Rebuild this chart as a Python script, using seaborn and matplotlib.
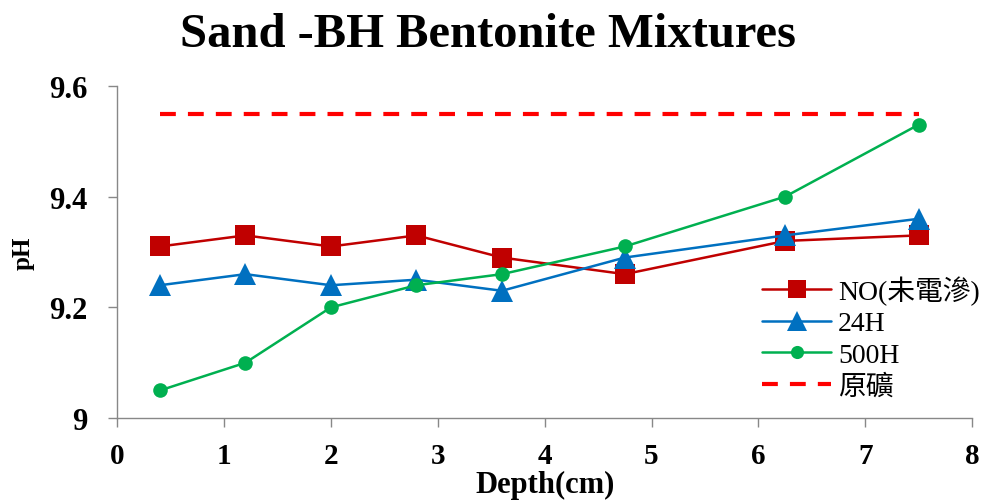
import matplotlib
matplotlib.use("Agg")
import matplotlib.pyplot as plt
import seaborn as sns
import pandas as pd

# Sampling depths (cm) and measured pH for each treatment
depth = [0.4, 1.2, 2.0, 2.8, 3.6, 4.75, 6.25, 7.5]
ph_no = [9.31, 9.33, 9.31, 9.33, 9.29, 9.26, 9.32, 9.33]
ph_24h = [9.24, 9.26, 9.24, 9.25, 9.23, 9.29, 9.33, 9.36]
ph_500h = [9.05, 9.10, 9.20, 9.24, 9.26, 9.31, 9.40, 9.53]
raw_depth = [0.4, 7.5]
raw_ph = [9.55, 9.55]

labels = ["NO(未電滲)", "24H", "500H", "原礦"]
x_ticks = [0, 1, 2, 3, 4, 5, 6, 7, 8]
y_ticks = [9.0, 9.2, 9.4, 9.6]
y_tick_labels = ["9", "9.2", "9.4", "9.6"]

sns.set_theme(style="white")
plt.rcParams["font.family"] = ["Liberation Serif", "Noto Sans CJK TC"]
plt.rcParams["text.color"] = "black"
plt.rcParams["axes.labelcolor"] = "black"

fig = plt.figure(figsize=(9.84, 5.02), dpi=100)
ax = fig.add_axes([0.119, 0.165, 0.869, 0.662])

df_no = pd.DataFrame({"depth": depth, "ph": ph_no})
df_24 = pd.DataFrame({"depth": depth, "ph": ph_24h})
df_500 = pd.DataFrame({"depth": depth, "ph": ph_500h})
df_raw = pd.DataFrame({"depth": raw_depth, "ph": raw_ph})

sns.lineplot(data=df_no, x="depth", y="ph", ax=ax, color="#C00000", lw=1.8,
             marker="s", markersize=15, markeredgewidth=0, label=labels[0])
sns.lineplot(data=df_24, x="depth", y="ph", ax=ax, color="#0070C0", lw=1.8,
             marker="^", markersize=16, markeredgewidth=0, label=labels[1])
sns.lineplot(data=df_500, x="depth", y="ph", ax=ax, color="#00B050", lw=1.8,
             marker="o", markersize=10.5, markeredgewidth=0, label=labels[2])
sns.lineplot(data=df_raw, x="depth", y="ph", ax=ax, color="#FF0000", lw=3,
             linestyle=(0, (3.8, 2.9)), label=labels[3])

ax.set_xlim(0, 8)
ax.set_ylim(9.0, 9.6)
ax.set_xticks(x_ticks)
ax.set_xticklabels([str(t) for t in x_ticks], fontsize=21, fontweight="bold")
ax.set_yticks(y_ticks)
ax.set_yticklabels(y_tick_labels, fontsize=22, fontweight="bold")

for side in ["top", "right"]:
    ax.spines[side].set_visible(False)
for side in ["left", "bottom"]:
    ax.spines[side].set_color("#888888")
    ax.spines[side].set_linewidth(1.0)
ax.tick_params(axis="both", direction="out", length=6.5, width=1.0,
               color="#888888", labelcolor="black", bottom=True, left=True)
ax.tick_params(axis="x", pad=11)
ax.tick_params(axis="y", pad=15)

ax.set_xlabel("Depth(cm)", fontsize=22, fontweight="bold", labelpad=0)
ax.set_ylabel("pH", fontsize=18, fontweight="bold", labelpad=10)
ax.set_title("Sand -BH Bentonite Mixtures", fontsize=35, fontweight="bold",
             pad=29, x=0.434)

leg = ax.legend(loc="upper left", bbox_to_anchor=(0.754, 0.43), frameon=False,
                fontsize=20, handlelength=2.5, handletextpad=0.25,
                labelspacing=0.22, borderaxespad=0, borderpad=0,
                markerscale=0.9)

fig.savefig("out.png", dpi=100)
